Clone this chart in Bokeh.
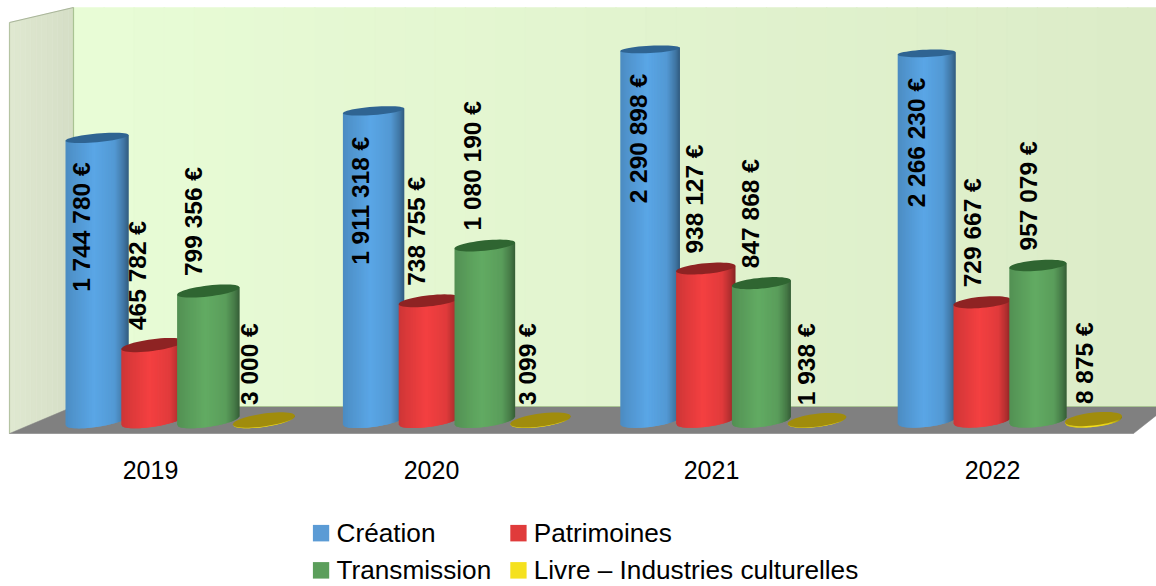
import math
from bokeh.plotting import figure
from bokeh.models import Range1d
from bokeh.core.properties import value
from bokeh.embed import file_html
from bokeh.resources import INLINE

years = ["2019", "2020", "2021", "2022"]
series_names = ["Création", "Patrimoines", "Transmission", "Livre – Industries culturelles"]
creation = [1744780, 1911318, 2290898, 2266230]
patrimoines = [465782, 738755, 938127, 729667]
transmission = [799356, 1080190, 847868, 957079]
livre = [3000, 3099, 1938, 8875]
all_series = [creation, patrimoines, transmission, livre]

base_colors = ["#5aa6e6", "#f44041", "#62ab63", "#f7e21c"]
top_colors = ["#2f6492", "#8e2323", "#2f6531", "#a08c0c"]
legend_colors = ["#5b9bd5", "#e03b3b", "#5b9e5b", "#f5e11e"]

W, H = 1156, 586
K = 1.62e-4      # px per euro
Y0 = 420          # page y of zero


def ey(py):
    return (Y0 - py) / K


def hexrgb(c):
    return [int(c[i:i + 2], 16) for i in (1, 3, 5)]


def shade(c, f):
    r = hexrgb(c)
    return "#%02x%02x%02x" % tuple(max(0, min(255, round(v * f))) for v in r)


def mix(a, b, t):
    ra, rb = hexrgb(a), hexrgb(b)
    return "#%02x%02x%02x" % tuple(round(x + (y - x) * t) for x, y in zip(ra, rb))


def shade_at(t):
    stops = [(0, .84), (.12, .89), (.45, 1.0), (.78, .92), (.92, .72), (1, .55)]
    for (a, fa), (b, fb) in zip(stops, stops[1:]):
        if t <= b:
            return fa + (fb - fa) * (t - a) / (b - a)
    return stops[-1][1]


def tilt(y, cx):
    return -(0.05 + 0.00019 * y) + 0.00004 * (cx - 500)


p = figure(width=W, height=H, x_range=Range1d(0, W),
           y_range=Range1d(ey(H), ey(0)), toolbar_location=None,
           output_backend="svg", min_border=0, outline_line_color=None)
p.axis.visible = False
p.grid.visible = False

# back wall bands
xs, ys, cols = [], [], []
nb = 36
for i in range(nb):
    x0 = 73 + (1157 - 73) * i / nb
    x1 = 73 + (1157 - 73) * (i + 1) / nb
    xs.append([x0, x1 + 1, x1 + 1, x0])
    ys.append([ey(7), ey(7), ey(407), ey(407)])
    cols.append(mix("#e8fcd6", "#dcecc8", (i / (nb - 1))))
# side wall bands
for i in range(12):
    x0 = 9 + 64 * i / 12
    x1 = 9 + 64 * (i + 1) / 12
    t0, t1 = 22 + (7 - 22) * i / 12, 22 + (7 - 22) * (i + 1) / 12
    b0, b1 = 433 + (407 - 433) * i / 12, 433 + (407 - 433) * (i + 1) / 12
    xs.append([x0, x1, x1, x0])
    ys.append([ey(t0), ey(t1), ey(b1), ey(b0)])
    cols.append(mix("#dfe8d0", "#d5dec6", i / 11))
# floor
xs.append([9, 73, 1157, 1157, 1133])
ys.append([ey(433), ey(406), ey(406), ey(414), ey(433)])
cols.append("#808080")
p.patches(xs, ys, fill_color=cols, line_color=cols, line_width=0.5, fill_alpha=1, line_alpha=1)
# wall edges
p.multi_line([[73, 73], [9, 9], [9, 1133], [73, 1157]],
             [[ey(7), ey(406)], [ey(22), ey(433)], [ey(433), ey(433)], [ey(406), ey(406)]],
             line_color=["#a9c393", "#b5c4a3", "#9a9a9a", "#a9c393"], line_width=1.2)
p.line([9, 73], [ey(22), ey(7)], line_color="#a9b59a", line_width=1.2)

# cylinders
left_first = 65.0
step = 55.8
group = 277.4
sx, sy, sc = [], [], []
label_x, label_y, label_t = [], [], []
for g in range(len(years)):
    for s, data in enumerate(all_series):
        v = data[g]
        xl = left_first + group * g + step * s
        w = 63 - (xl - 65) * 6.2 / 1000
        a = w / 2
        cx = xl + a
        ytop = Y0 - K * v
        s_bot = tilt(Y0, cx)
        s_top = tilt(ytop, cx)
        b_bot = 6.4
        b_top = 3.3 + 0.0075 * ytop
        n = int(round(w))
        for i in range(n):
            x0 = xl + w * i / n
            x1 = min(xl + w, xl + w * (i + 1) / n + 1.0)   # overlap the next strip
            d0, d1 = (x0 - cx) / a, (x1 - cx) / a
            h0 = b_bot * math.sqrt(max(0, 1 - d0 * d0))
            h1 = b_bot * math.sqrt(max(0, 1 - d1 * d1))
            yb0 = Y0 + s_bot * (x0 - cx) + h0
            yb1 = Y0 + s_bot * (x1 - cx) + h1
            yt0 = ytop + s_top * (x0 - cx)
            yt1 = ytop + s_top * (x1 - cx)
            sx.append([x0, x1, x1, x0])
            sy.append([ey(yt0), ey(yt1), ey(yb1), ey(yb0)])
            sc.append(shade(base_colors[s], shade_at((i + .5) / n)))
        ex, eyy = [], []
        for j in range(49):
            th = 2 * math.pi * j / 48
            dx = a * math.cos(th)
            ex.append(cx + dx)
            eyy.append(ey(ytop + s_top * dx + b_top * math.sin(th)))
        sx.append(ex)
        sy.append(eyy)
        sc.append(top_colors[s])
        off = 15.2 - (cx - 96) * 6.2 / 1000
        label_x.append(cx - off)
        label_y.append(ey(ytop + 24 + 130) if s == 0 else ey(ytop - 15))
        label_t.append(f"{v:,}".replace(",", " ") + " €")

p.patches(sx, sy, fill_color=sc, line_color=None, fill_alpha=1)

p.text(label_x, label_y, text=label_t, angle=math.pi / 2, text_align="left",
       text_baseline="middle", text_font=value("Liberation Sans"),
       text_font_style="bold", text_font_size="24.5px", text_color="#000000")

# category labels
year_x = [150, 431, 711, 992]
p.text(year_x, [ey(469)] * 4, text=years, text_align="center", text_baseline="middle",
       text_font=value("Liberation Sans"), text_font_size="25px", text_color="#000000")

# legend
lx = [312.4, 509.8, 312.4, 509.8]
ly = [524.4, 524.4, 561.6, 561.6]
tx = [336, 533.2, 336, 533.2]
ty = [532.5, 532.5, 569, 569]
p.quad(left=lx, right=[x + 16.3 for x in lx],
       top=[ey(y) for y in ly], bottom=[ey(y + 16.5) for y in ly],
       fill_color=legend_colors, line_color=None, fill_alpha=1)
p.text(tx, [ey(y) for y in ty], text=series_names,
       text_align="left", text_baseline="middle",
       text_font=value("Liberation Sans"), text_font_size="26.2px", text_color="#000000")

open("out.html", "w").write(file_html(p, INLINE))
